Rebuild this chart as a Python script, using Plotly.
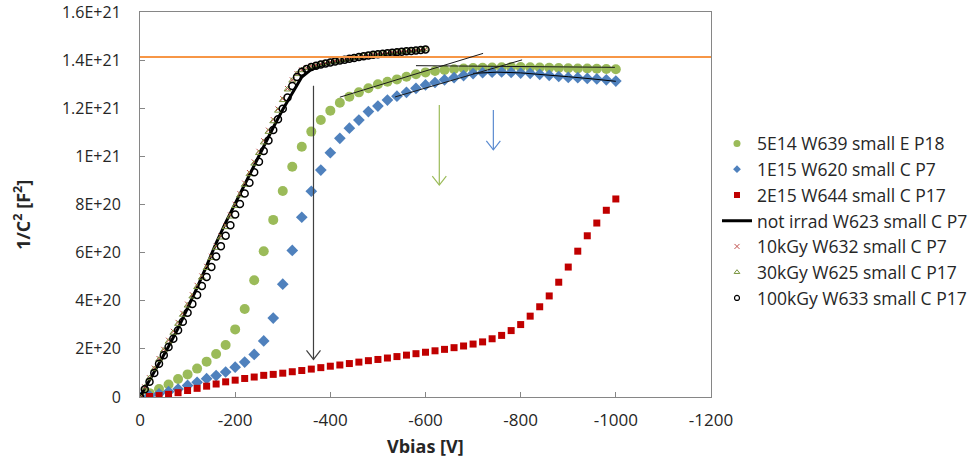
import plotly.graph_objects as go

# ---------------- data (values in units of 1E20 F^-2) ----------------
E20 = 1e20
bias_20v = list(range(0, -1001, -20))          # 0 .. -1000 V, 20 V steps
bias_10v = list(range(0, -601, -10))           # 0 .. -600 V, 10 V steps
bias_not_irrad = list(range(0, -601, -20))     # 0 .. -600 V, 20 V steps

s_5e14 = [0, 0.16, 0.33, 0.52, 0.75, 0.94, 1.18, 1.47, 1.79, 2.16, 2.81, 3.66, 4.85, 6.06, 7.36,
          8.56, 9.57, 10.40, 11.03, 11.51, 11.90, 12.23, 12.48, 12.66, 12.83, 13.00, 13.10, 13.20,
          13.31, 13.41, 13.49, 13.55, 13.59, 13.62, 13.65, 13.67, 13.68, 13.69, 13.70, 13.71, 13.71,
          13.70, 13.69, 13.68, 13.67, 13.66, 13.65, 13.65, 13.64, 13.63, 13.62]

s_1e15 = [0, 0.05, 0.13, 0.22, 0.33, 0.48, 0.61, 0.76, 0.89, 1.04, 1.24, 1.45, 1.77, 2.33, 3.28,
          4.69, 6.09, 7.47, 8.55, 9.43, 10.15, 10.75, 11.17, 11.51, 11.86, 12.09, 12.34, 12.50,
          12.66, 12.83, 12.97, 13.07, 13.18, 13.27, 13.36, 13.44, 13.48, 13.50, 13.51, 13.49, 13.46,
          13.45, 13.41, 13.37, 13.32, 13.28, 13.27, 13.24, 13.22, 13.18, 13.13]

s_2e15 = [0, 0.02, 0.06, 0.11, 0.18, 0.27, 0.36, 0.45, 0.54, 0.63, 0.70, 0.77, 0.83, 0.90, 0.94,
          0.99, 1.05, 1.10, 1.16, 1.22, 1.28, 1.33, 1.39, 1.45, 1.51, 1.56, 1.62, 1.68, 1.74, 1.80,
          1.86, 1.92, 1.98, 2.05, 2.12, 2.20, 2.29, 2.42, 2.56, 2.76, 3.01, 3.36, 3.75, 4.20, 4.77,
          5.40, 6.06, 6.70, 7.23, 7.76, 8.23]

s_not_irrad = [0, 0.68, 1.38, 2.10, 2.85, 3.68, 4.55, 5.45, 6.40, 7.25, 8.05, 8.85, 9.65, 10.45,
               11.20, 11.95, 12.65, 13.30, 13.62, 13.77, 13.88, 13.96, 14.03, 14.09, 14.15, 14.20,
               14.25, 14.30, 14.34, 14.38, 14.42]

s_10kgy = [0, 0.42, 0.80, 1.20, 1.60, 1.98, 2.36, 2.73, 3.10, 3.48, 3.86, 4.25, 4.64, 5.03, 5.43,
           5.85, 6.27, 6.70, 7.13, 7.57, 8.01, 8.45, 8.89, 9.33, 9.77, 10.21, 10.65, 11.09, 11.53,
           11.97, 12.40, 12.82, 13.18, 13.44, 13.59, 13.68, 13.75, 13.80, 13.85, 13.89, 13.93, 13.96,
           14.00, 14.04, 14.08, 14.11, 14.15, 14.18, 14.21, 14.24, 14.26, 14.28, 14.31, 14.33, 14.35,
           14.37, 14.38, 14.40, 14.41, 14.43, 14.45]

s_30kgy = [0, 0.40, 0.78, 1.16, 1.55, 1.93, 2.30, 2.67, 3.04, 3.42, 3.80, 4.18, 4.57, 4.96, 5.36,
           5.78, 6.20, 6.63, 7.06, 7.50, 7.94, 8.38, 8.82, 9.26, 9.70, 10.14, 10.58, 11.02, 11.46,
           11.90, 12.34, 12.78, 13.15, 13.42, 13.58, 13.67, 13.74, 13.79, 13.84, 13.88, 13.92, 13.95,
           13.99, 14.03, 14.07, 14.10, 14.14, 14.17, 14.20, 14.23, 14.25, 14.27, 14.30, 14.32, 14.34,
           14.36, 14.38, 14.39, 14.41, 14.43, 14.45]

s_100kgy = [0, 0.32, 0.63, 1.00, 1.38, 1.74, 2.08, 2.42, 2.77, 3.13, 3.50, 3.87, 4.24, 4.61, 4.99,
            5.40, 5.84, 6.27, 6.70, 7.14, 7.58, 8.02, 8.46, 8.90, 9.34, 9.78, 10.22, 10.66, 11.10,
            11.54, 11.98, 12.45, 12.92, 13.30, 13.52, 13.63, 13.71, 13.77, 13.82, 13.86, 13.90, 13.94,
            13.98, 14.02, 14.06, 14.09, 14.13, 14.16, 14.19, 14.22, 14.24, 14.26, 14.29, 14.31, 14.33,
            14.35, 14.37, 14.38, 14.40, 14.42, 14.44]

# polynomial trend drawn through the 1E15 plateau
trend_1e15_bias = [-700, -750, -800, -850, -900, -950, -1000]
trend_1e15_vals = [13.45, 13.50, 13.47, 13.40, 13.31, 13.22, 13.12]

orange_level = 14.13          # horizontal reference (1E20)
fit_lines = [((-420, 12.46), (-721, 14.28)),
             ((-536, 12.47), (-803, 14.01)),
             ((-580, 13.77), (-998, 13.70))]
arrows = [(-364.6, 12.93, 1.56, '#404040'),
          (-629.0, 12.14, 8.81, '#9BBB59'),
          (-742.6, 11.93, 10.27, '#5B8BD0')]

x_ticks = [0, -200, -400, -600, -800, -1000, -1200]
x_tick_text = ['0', '-200', '-400', '-600', '-800', '-1000', '-1200']
y_ticks = [0, 2e20, 4e20, 6e20, 8e20, 1e21, 1.2e21, 1.4e21, 1.6e21]
y_tick_text = ['0', '2E+20', '4E+20', '6E+20', '8E+20', '1E+21', '1.2E+21', '1.4E+21', '1.6E+21']


def scaled(vals):
    return [v * E20 for v in vals]


FONT = 'Open Sans'
TXT = '#262626'

# (name, x, values, plot style, legend-symbol style)
series = [
    ('5E14 W639 small E P18', bias_20v, s_5e14,
     dict(mode='markers', marker=dict(symbol='circle', size=10, color='#9BBB59', line=dict(width=0))),
     dict(mode='markers', marker=dict(symbol='circle', size=7, color='#9BBB59', line=dict(width=0)))),
    ('1E15 W620 small C P7', bias_20v, s_1e15,
     dict(mode='markers', marker=dict(symbol='diamond', size=9, color='#4F81BD', line=dict(width=0))),
     dict(mode='markers', marker=dict(symbol='diamond', size=6, color='#4F81BD', line=dict(width=0)))),
    ('2E15 W644 small C P17', bias_20v, s_2e15,
     dict(mode='markers', marker=dict(symbol='square', size=7, color='#C00000', line=dict(width=0))),
     dict(mode='markers', marker=dict(symbol='square', size=6, color='#C00000', line=dict(width=0)))),
    ('not irrad W623 small C P7', bias_not_irrad, s_not_irrad,
     dict(mode='lines', line=dict(color='black', width=3)),
     dict(mode='lines', line=dict(color='black', width=3))),
    ('10kGy W632 small C P7', bias_10v, s_10kgy,
     dict(mode='markers', marker=dict(symbol='x-thin-open', size=5, color='#C0504D',
                                      line=dict(width=1, color='#C0504D'))),
     dict(mode='markers', marker=dict(symbol='x-thin-open', size=5, color='#C0504D',
                                      line=dict(width=1, color='#C0504D')))),
    ('30kGy W625 small C P17', bias_10v, s_30kgy,
     dict(mode='markers', marker=dict(symbol='triangle-up-open', size=6, color='#77933C',
                                      line=dict(width=1, color='#77933C'))),
     dict(mode='markers', marker=dict(symbol='triangle-up-open', size=5, color='#77933C',
                                      line=dict(width=1, color='#77933C')))),
    ('100kGy W633 small C P17', bias_10v, s_100kgy,
     dict(mode='markers', marker=dict(symbol='circle-open', size=7, color='black',
                                      line=dict(width=1.5, color='black'))),
     dict(mode='markers', marker=dict(symbol='circle-open', size=5, color='black',
                                      line=dict(width=1.2, color='black')))),
]

fig = go.Figure()
for i, (name, xs, vals, style, _) in enumerate(series):
    fig.add_trace(go.Scatter(x=xs, y=scaled(vals), name=name, legendgroup=f'g{i}',
                             showlegend=False, **style))
fig.add_trace(go.Scatter(x=trend_1e15_bias, y=scaled(trend_1e15_vals), mode='lines', showlegend=False,
                         line=dict(color='black', width=1), hoverinfo='skip'))
# legend entries (smaller symbols, as in the reference legend)
for i, (name, _, _, _, lstyle) in enumerate(series):
    fig.add_trace(go.Scatter(x=[None], y=[None], name=name, legendgroup=f'g{i}',
                             showlegend=True, **lstyle))

shapes = [dict(type='line', xref='paper', x0=0, x1=1, yref='y', y0=orange_level * E20,
               y1=orange_level * E20, line=dict(color='#F79646', width=2))]
for (xa, ya), (xb, yb) in fit_lines:
    shapes.append(dict(type='line', xref='x', yref='y', x0=xa, y0=ya * E20, x1=xb, y1=yb * E20,
                       line=dict(color='#1a1a1a', width=1)))
for xv, ytop, ytip, col in arrows:
    shapes.append(dict(type='line', xref='x', yref='y', x0=xv, x1=xv, y0=ytop * E20, y1=ytip * E20,
                       line=dict(color=col, width=1.2)))
    shapes.append(dict(type='path', xref='x', yref='y', xsizemode='pixel', ysizemode='pixel',
                       xanchor=xv, yanchor=ytip * E20, path='M-7,9 L0,0 L7,9',
                       line=dict(color=col, width=1.2)))

axis_common = dict(showline=True, linecolor='#868686', linewidth=1, mirror=True, showgrid=False,
                   zeroline=False, ticks='inside', ticklen=5, tickcolor='#868686', automargin=False)

fig.update_layout(
    width=980, height=462,
    margin=dict(l=140, r=269, t=12, b=65, autoexpand=False),
    paper_bgcolor='white', plot_bgcolor='white',
    font=dict(family=FONT, size=17, color=TXT),
    xaxis=dict(range=[0, -1200], tickvals=x_ticks, ticktext=x_tick_text, ticklabelstandoff=8,
               tickfont=dict(family=FONT, size=17, color=TXT), **axis_common),
    yaxis=dict(range=[0, 1.6e21], tickvals=y_ticks, ticktext=y_tick_text, ticklabelstandoff=15,
               tickfont=dict(family=FONT, size=16, color=TXT), **axis_common),
    legend=dict(x=1.0105, y=0.705, xanchor='left', yanchor='top', bgcolor='rgba(0,0,0,0)',
                font=dict(family=FONT, size=17.5, color=TXT), tracegroupgap=0,
                traceorder='normal'),
    shapes=shapes,
    annotations=[
        dict(text='<b>Vbias [V]</b>', xref='paper', yref='paper', x=0.5, y=-0.126,
             xanchor='center', yanchor='middle', showarrow=False,
             font=dict(family=FONT, size=18, color=TXT)),
        dict(text='<b>1/C<sup>2</sup> [F<sup>2</sup>]</b>', xref='paper', yref='paper',
             x=-0.2067, y=0.473, xanchor='center', yanchor='middle', textangle=-90,
             showarrow=False, font=dict(family=FONT, size=18, color=TXT)),
    ],
    showlegend=True,
)

fig.write_html("out.html")
